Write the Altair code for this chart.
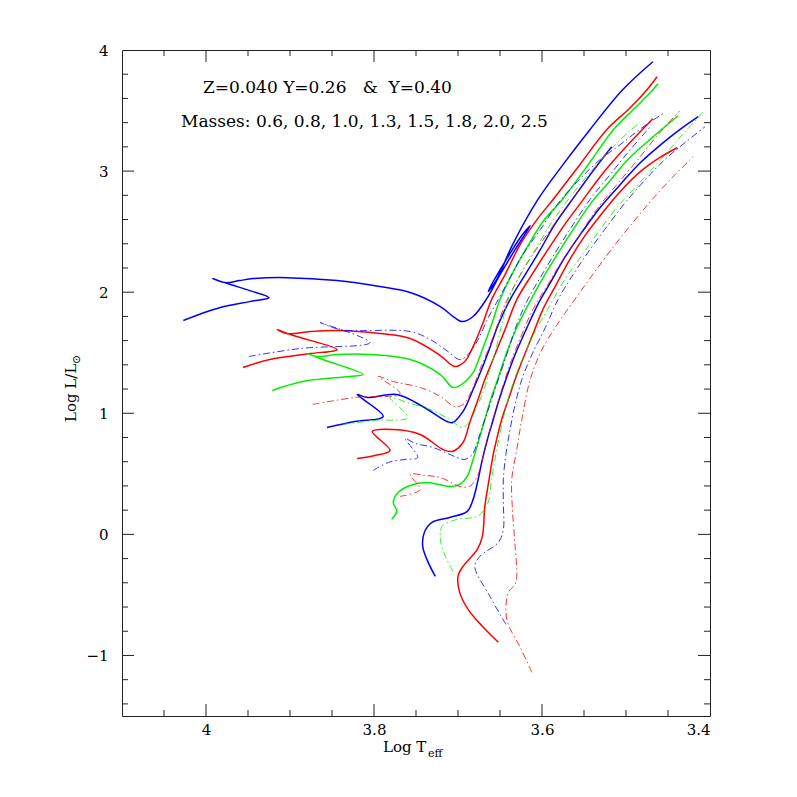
import altair as alt
import pandas as pd

# ---------------- data: evolutionary tracks (log Teff, log L/Lsun) ----------------
# Y = 0.26 (solid lines)
s25_T = [4.027, 3.983, 3.948, 3.925, 3.948, 3.971, 3.992, 3.977, 3.960, 3.944, 3.904, 3.844, 3.793, 3.757, 3.721, 3.704, 3.695, 3.682, 3.665, 3.650, 3.632, 3.614, 3.626, 3.644, 3.660, 3.664, 3.654, 3.635, 3.605, 3.575, 3.543, 3.504, 3.468]
s25_L = [1.766, 1.873, 1.922, 1.955, 2.013, 2.063, 2.112, 2.079, 2.096, 2.112, 2.120, 2.096, 2.046, 1.997, 1.881, 1.790, 1.757, 1.799, 1.955, 2.145, 2.351, 2.550, 2.450, 2.252, 2.063, 2.005, 2.104, 2.393, 2.764, 3.053, 3.342, 3.672, 3.903]
s20_T = [3.956, 3.924, 3.876, 3.844, 3.896, 3.915, 3.904, 3.876, 3.844, 3.793, 3.757, 3.721, 3.704, 3.692, 3.682, 3.671, 3.660, 3.644, 3.626, 3.606, 3.587, 3.555, 3.523, 3.495, 3.475, 3.463]
s20_L = [1.378, 1.444, 1.493, 1.526, 1.642, 1.691, 1.658, 1.675, 1.683, 1.658, 1.617, 1.477, 1.386, 1.427, 1.551, 1.733, 1.939, 2.145, 2.393, 2.599, 2.764, 3.053, 3.342, 3.523, 3.672, 3.779]
s18_T = [3.921, 3.885, 3.829, 3.813, 3.861, 3.879, 3.868, 3.844, 3.805, 3.757, 3.721, 3.706, 3.694, 3.682, 3.671, 3.660, 3.650, 3.636, 3.618, 3.599, 3.576, 3.545, 3.515, 3.489, 3.468, 3.462]
s18_L = [1.188, 1.262, 1.304, 1.320, 1.444, 1.493, 1.469, 1.485, 1.485, 1.444, 1.320, 1.213, 1.246, 1.337, 1.526, 1.733, 1.939, 2.145, 2.368, 2.582, 2.764, 3.053, 3.342, 3.523, 3.672, 3.721]
s15_T = [3.856, 3.823, 3.789, 3.820, 3.808, 3.773, 3.742, 3.713, 3.706, 3.694, 3.682, 3.671, 3.662, 3.652, 3.638, 3.620, 3.602, 3.585, 3.564, 3.540, 3.517]
s15_L = [0.883, 0.932, 0.974, 1.155, 1.130, 1.155, 1.056, 0.932, 0.924, 1.015, 1.196, 1.378, 1.543, 1.733, 1.939, 2.145, 2.351, 2.558, 2.764, 2.995, 3.201]
s13_T = [3.820, 3.799, 3.781, 3.802, 3.777, 3.745, 3.718, 3.707, 3.694, 3.686, 3.677, 3.668, 3.656, 3.644, 3.630, 3.612, 3.593, 3.573, 3.551, 3.527, 3.501, 3.468]
s13_L = [0.627, 0.652, 0.693, 0.850, 0.866, 0.825, 0.701, 0.685, 0.759, 0.924, 1.097, 1.279, 1.485, 1.691, 1.939, 2.145, 2.351, 2.558, 2.764, 2.987, 3.193, 3.432]
s10_T = [3.779, 3.773, 3.777, 3.771, 3.757, 3.737, 3.710, 3.698, 3.689, 3.682, 3.675, 3.668, 3.661, 3.652, 3.642, 3.630, 3.615, 3.600, 3.582, 3.563, 3.543, 3.521, 3.498, 3.469, 3.438]
s10_L = [0.124, 0.190, 0.264, 0.347, 0.404, 0.429, 0.396, 0.413, 0.479, 0.619, 0.784, 0.949, 1.114, 1.295, 1.502, 1.708, 1.914, 2.104, 2.310, 2.516, 2.723, 2.904, 3.094, 3.276, 3.457]
s08_T = [3.727, 3.736, 3.742, 3.740, 3.731, 3.710, 3.689, 3.682, 3.676, 3.671, 3.665, 3.658, 3.651, 3.643, 3.632, 3.619, 3.605, 3.590, 3.573, 3.552, 3.531, 3.507, 3.483, 3.460, 3.436, 3.414]
s08_L = [-0.347, -0.223, -0.099, 0.017, 0.099, 0.140, 0.190, 0.289, 0.454, 0.619, 0.784, 0.949, 1.114, 1.279, 1.485, 1.691, 1.898, 2.079, 2.285, 2.500, 2.698, 2.888, 3.069, 3.210, 3.342, 3.449]
s06_T = [3.652, 3.671, 3.688, 3.698, 3.700, 3.694, 3.677, 3.671, 3.668, 3.663, 3.658, 3.654, 3.648, 3.640, 3.632, 3.623, 3.611, 3.599, 3.583, 3.567, 3.548, 3.527, 3.507, 3.483, 3.460, 3.439]
s06_L = [-0.891, -0.759, -0.619, -0.479, -0.347, -0.264, -0.124, -0.017, 0.231, 0.454, 0.660, 0.784, 0.949, 1.114, 1.279, 1.444, 1.650, 1.856, 2.063, 2.269, 2.475, 2.665, 2.830, 2.995, 3.111, 3.193]

# Y = 0.40 (dash-dot lines)
d1_T = [3.949, 3.888, 3.805, 3.864, 3.840, 3.757, 3.733, 3.712, 3.698, 3.688, 3.676, 3.664, 3.652, 3.638, 3.623, 3.602, 3.582, 3.558, 3.531, 3.507, 3.481, 3.456]
d1_L = [1.469, 1.535, 1.584, 1.749, 1.691, 1.675, 1.609, 1.510, 1.444, 1.485, 1.609, 1.790, 1.939, 2.120, 2.310, 2.516, 2.723, 2.913, 3.094, 3.218, 3.358, 3.474]
d2_T = [3.873, 3.823, 3.769, 3.795, 3.777, 3.745, 3.721, 3.704, 3.694, 3.683, 3.674, 3.664, 3.655, 3.644, 3.629, 3.611, 3.590, 3.569, 3.545, 3.519]
d2_L = [1.073, 1.130, 1.163, 1.304, 1.262, 1.213, 1.139, 1.056, 1.073, 1.196, 1.361, 1.526, 1.691, 1.898, 2.104, 2.310, 2.516, 2.723, 2.946, 3.177]
d3_T = [3.837, 3.799, 3.760, 3.781, 3.757, 3.733, 3.710, 3.695, 3.686, 3.679, 3.669, 3.662, 3.655, 3.648, 3.640, 3.626, 3.608, 3.588, 3.567, 3.540, 3.513, 3.483]
d3_L = [0.908, 0.941, 0.965, 1.130, 1.081, 1.031, 0.949, 0.883, 0.932, 1.031, 1.196, 1.361, 1.526, 1.733, 1.939, 2.145, 2.351, 2.582, 2.781, 3.012, 3.218, 3.408]
d4_T = [3.801, 3.783, 3.763, 3.748, 3.763, 3.751, 3.730, 3.701, 3.692, 3.683, 3.676, 3.668, 3.660, 3.650, 3.640, 3.630, 3.617, 3.600, 3.582, 3.563, 3.543, 3.519, 3.495, 3.469]
d4_L = [0.528, 0.594, 0.619, 0.635, 0.792, 0.751, 0.718, 0.635, 0.619, 0.660, 0.784, 0.949, 1.114, 1.320, 1.526, 1.733, 1.939, 2.145, 2.351, 2.558, 2.764, 2.970, 3.177, 3.383]
d5_T = [3.769, 3.745, 3.757, 3.739, 3.721, 3.698, 3.686, 3.679, 3.674, 3.668, 3.662, 3.655, 3.646, 3.636, 3.624, 3.611, 3.593, 3.575, 3.555, 3.535, 3.511, 3.486, 3.462, 3.436]
d5_L = [0.314, 0.371, 0.495, 0.487, 0.470, 0.396, 0.396, 0.454, 0.536, 0.701, 0.866, 1.031, 1.238, 1.444, 1.650, 1.856, 2.063, 2.269, 2.475, 2.682, 2.888, 3.094, 3.300, 3.498]
d6_T = [3.706, 3.715, 3.721, 3.719, 3.701, 3.677, 3.665, 3.660, 3.655, 3.649, 3.642, 3.633, 3.621, 3.607, 3.590, 3.573, 3.552, 3.531, 3.510, 3.486, 3.462, 3.436, 3.408]
d6_L = [-0.305, -0.182, -0.041, 0.066, 0.124, 0.149, 0.248, 0.454, 0.660, 0.866, 1.073, 1.279, 1.485, 1.691, 1.898, 2.104, 2.310, 2.516, 2.706, 2.888, 3.069, 3.276, 3.490]
d7_T = [3.643, 3.662, 3.680, 3.674, 3.652, 3.646, 3.646, 3.646, 3.643, 3.638, 3.632, 3.624, 3.612, 3.596, 3.581, 3.563, 3.543, 3.521, 3.501, 3.477, 3.454, 3.430, 3.406]
d7_L = [-0.743, -0.512, -0.264, -0.182, -0.066, 0.041, 0.248, 0.454, 0.660, 0.866, 1.073, 1.279, 1.485, 1.708, 1.939, 2.145, 2.351, 2.558, 2.739, 2.929, 3.094, 3.234, 3.366]
d8_T = [3.612, 3.626, 3.642, 3.640, 3.632, 3.630, 3.632, 3.635, 3.636, 3.630, 3.624, 3.614, 3.600, 3.582, 3.561, 3.537, 3.513, 3.489, 3.469, 3.445, 3.420]
d8_L = [-1.139, -0.932, -0.701, -0.479, -0.413, -0.347, -0.099, 0.182, 0.454, 0.701, 0.949, 1.279, 1.526, 1.733, 1.939, 2.170, 2.393, 2.599, 2.764, 2.946, 3.119]

# axis ticks / labels
x_major = [4.0, 3.8, 3.6]
x_minor = [4.05, 3.95, 3.9, 3.85, 3.75, 3.7, 3.65, 3.55, 3.5, 3.45]
x_labels = [4.0, 3.8, 3.6, 3.4]
y_major = [-1, 0, 1, 2, 3]
y_minor = [-1.4, -1.2, -0.8, -0.6, -0.4, -0.2, 0.2, 0.4, 0.6, 0.8, 1.2, 1.4, 1.6, 1.8,
           2.2, 2.4, 2.6, 2.8, 3.2, 3.4, 3.6, 3.8]
y_labels = [-1, 0, 1, 2, 3, 4]

title1 = "Z=0.040 Y=0.26\u00a0\u00a0\u00a0&\u00a0\u00a0Y=0.40"
title2 = "Masses: 0.6, 0.8, 1.0, 1.3, 1.5, 1.8, 2.0, 2.5"

BLUE, RED, GREEN = "#0000ff", "#ff0000", "#00ee00"
tracks = [
    ("s25", "solid", BLUE, s25_T, s25_L), ("s20", "solid", RED, s20_T, s20_L),
    ("s18", "solid", GREEN, s18_T, s18_L), ("s15", "solid", BLUE, s15_T, s15_L),
    ("s13", "solid", RED, s13_T, s13_L), ("s10", "solid", GREEN, s10_T, s10_L),
    ("s08", "solid", BLUE, s08_T, s08_L), ("s06", "solid", RED, s06_T, s06_L),
    ("d1", "dash", BLUE, d1_T, d1_L), ("d2", "dash", RED, d2_T, d2_L),
    ("d3", "dash", GREEN, d3_T, d3_L), ("d4", "dash", BLUE, d4_T, d4_L),
    ("d5", "dash", RED, d5_T, d5_L), ("d6", "dash", GREEN, d6_T, d6_L),
    ("d7", "dash", BLUE, d7_T, d7_L), ("d8", "dash", RED, d8_T, d8_L),
]
rows = []
for name, style, col, T, L in tracks:
    for i, (t, l) in enumerate(zip(T, L)):
        rows.append({"track": name, "style": style, "col": col, "i": i, "logT": t, "logL": l})
df = pd.DataFrame(rows)

W, H = 588, 666
FONT = "DejaVu Serif"
INK = "#222222"

xs = alt.Scale(domain=[3.4, 4.1], reverse=True, nice=False, zero=False)
ys = alt.Scale(domain=[-1.5, 4.0], nice=False, zero=False)

xaxis = alt.Axis(values=x_labels, labelExpr="datum.value == 4 ? '4' : format(datum.value, '.1f')",
                 ticks=False, tickSize=0, domain=False, grid=False, title=None,
                 labelPadding=6, labelFont=FONT, labelFontSize=15, labelColor="black")
yaxis = alt.Axis(values=y_labels, format="d", ticks=False, tickSize=0, domain=False, grid=False,
                 title=None, labelPadding=14, labelFont=FONT, labelFontSize=15, labelColor="black")

base = alt.Chart(df).encode(
    x=alt.X("logT:Q", scale=xs, axis=xaxis),
    y=alt.Y("logL:Q", scale=ys, axis=yaxis),
    color=alt.Color("col:N", scale=None),
    detail="track:N",
    order="i:Q",
)
solid = base.transform_filter(alt.datum.style == "solid").mark_line(
    strokeWidth=1.5, interpolate="catmull-rom")
dash = base.transform_filter(alt.datum.style == "dash").mark_line(
    strokeWidth=1.0, strokeDash=[7, 3, 1.5, 3], opacity=0.8, interpolate="catmull-rom")

def xticks(vals, length):
    d = pd.DataFrame({"v": vals})
    bot = alt.Chart(d).mark_rule(color=INK, strokeWidth=1).encode(
        x=alt.X("v:Q", scale=xs, axis=xaxis), y=alt.value(H), y2=alt.value(H - length))
    top = alt.Chart(d).mark_rule(color=INK, strokeWidth=1).encode(
        x=alt.X("v:Q", scale=xs, axis=xaxis), y=alt.value(0), y2=alt.value(length))
    return [bot, top]

def yticks(vals, length):
    d = pd.DataFrame({"v": vals})
    left = alt.Chart(d).mark_rule(color=INK, strokeWidth=1).encode(
        y=alt.Y("v:Q", scale=ys, axis=yaxis), x=alt.value(0), x2=alt.value(length))
    right = alt.Chart(d).mark_rule(color=INK, strokeWidth=1).encode(
        y=alt.Y("v:Q", scale=ys, axis=yaxis), x=alt.value(W), x2=alt.value(W - length))
    return [left, right]

def label(text, x, y, size=15, angle=0, align="left", baseline="alphabetic"):
    return alt.Chart(pd.DataFrame({"t": [text]})).mark_text(
        font=FONT, fontSize=size, color="black", align=align, baseline=baseline, angle=angle
    ).encode(text="t:N", x=alt.value(x), y=alt.value(y))

layers = [solid, dash] + xticks(x_major, 12) + xticks(x_minor, 6) + yticks(y_major, 12) + yticks(y_minor, 6)
layers += [
    label(title1, 81, 43, 17),
    label(title2, 59, 77, 17),
    label("Log T", 261, 702, 15),
    label("eff", 306, 707, 11),
    label("Log L/L", -46, 372, 15, angle=270),
    label("\u2299", -42, 314, 11, angle=270),
]

chart = alt.layer(*layers).properties(
    width=W, height=H,
    autosize=alt.AutoSizeParams(type="none"),
    padding={"left": 114, "top": 42, "right": 40, "bottom": 50},
).configure_view(stroke=INK, strokeWidth=1)

chart.save("out.html", embed_options={"renderer": "svg", "actions": False})
